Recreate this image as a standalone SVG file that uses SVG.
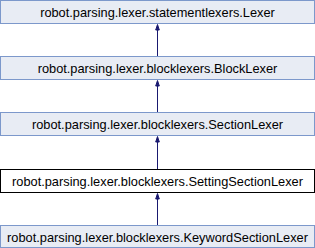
<svg xmlns="http://www.w3.org/2000/svg" width="315" height="248" viewBox="0 0 315 248">
<style>
.n rect{fill:#e8ecf4;stroke:#7c98cb;stroke-width:1}
.n.cur rect{fill:#ffffff;stroke:#000000}
.n text{font-family:"Liberation Sans",Arial,sans-serif;font-size:12.8px;fill:#000;text-anchor:middle}
.e line{stroke:#191970;stroke-width:1}
.e path{fill:#191970;stroke:#191970}
</style>
<g id="edges" class="e">
<line x1="157.5" y1="56" x2="157.5" y2="29"/><path d="M157.5,24.5 L155.7,30 L159.3,30 Z"/>
<line x1="157.5" y1="112" x2="157.5" y2="85"/><path d="M157.5,80.5 L155.7,86 L159.3,86 Z"/>
<line x1="157.5" y1="169" x2="157.5" y2="141"/><path d="M157.5,136.5 L155.7,142 L159.3,142 Z"/>
<line x1="157.5" y1="225" x2="157.5" y2="198"/><path d="M157.5,193.5 L155.7,199 L159.3,199 Z"/>
</g>
<g id="n1" class="n"><rect x="0.5" y="0.5" width="314" height="23"/><text x="157.5" y="16.5">robot.parsing.lexer.statementlexers.Lexer</text></g>
<g id="n2" class="n"><rect x="0.5" y="56.5" width="314" height="23"/><text x="157.5" y="72.5">robot.parsing.lexer.blocklexers.BlockLexer</text></g>
<g id="n3" class="n"><rect x="0.5" y="112.5" width="314" height="23"/><text x="157.5" y="128.5">robot.parsing.lexer.blocklexers.SectionLexer</text></g>
<g id="n4" class="n cur"><rect x="0.5" y="169.5" width="314" height="23"/><text x="157.5" y="185.5">robot.parsing.lexer.blocklexers.SettingSectionLexer</text></g>
<g id="n5" class="n"><rect x="0.5" y="225.5" width="314" height="22"/><text x="157.5" y="241.5">robot.parsing.lexer.blocklexers.KeywordSectionLexer</text></g>
</svg>
